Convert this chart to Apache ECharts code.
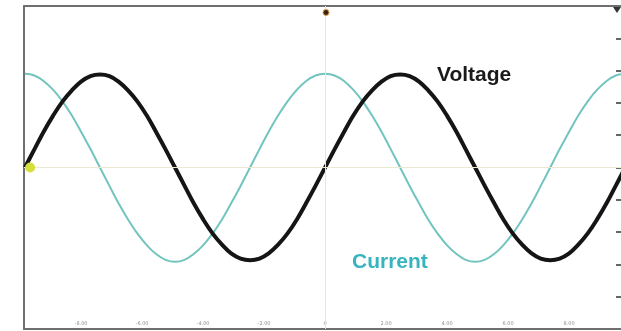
<!DOCTYPE html>
<html><head><meta charset="utf-8">
<script src="https://cdn.jsdelivr.net/npm/echarts@6/dist/echarts.min.js"></script>
<style>html,body{margin:0;padding:0;background:#fff}#c{width:621px;height:331px}</style>
</head><body><div id="c"></div>
<script>
// sample times (time units; 0 = trigger at screen centre)
var times = [-9.84,-9.53,-9.23,-8.92,-8.61,-8.30,-8.00,-7.69,-7.38,-7.07,-6.77,-6.46,-6.15,-5.84,-5.54,-5.23,
             -4.92,-4.61,-4.31,-4.00,-3.69,-3.38,-3.08,-2.77,-2.46,-2.15,-1.85,-1.54,-1.23,-0.92,-0.62,-0.31,
             0,0.31,0.62,0.92,1.23,1.54,1.85,2.15,2.46,2.77,3.08,3.38,3.69,4.00,4.31,4.61,
             4.92,5.23,5.54,5.84,6.15,6.46,6.77,7.07,7.38,7.69,8.00,8.30,8.61,8.92,9.23,9.53,9.84];
// voltage (divisions)
var voltage = [0,0.56,1.10,1.60,2.04,2.39,2.66,2.83,2.88,2.83,2.66,2.39,2.04,1.60,1.10,0.56,
               0,-0.56,-1.10,-1.60,-2.04,-2.39,-2.66,-2.82,-2.87,-2.82,-2.66,-2.39,-2.04,-1.60,-1.10,-0.56,
               0,0.56,1.10,1.60,2.04,2.39,2.66,2.83,2.88,2.83,2.66,2.39,2.04,1.60,1.10,0.56,
               0,-0.56,-1.10,-1.60,-2.04,-2.39,-2.66,-2.82,-2.87,-2.82,-2.66,-2.39,-2.04,-1.60,-1.10,-0.56,0];
// current (divisions)
var current = [2.90,2.85,2.68,2.41,2.05,1.61,1.11,0.57,0,-0.57,-1.11,-1.61,-2.05,-2.41,-2.68,-2.86,
               -2.92,-2.86,-2.68,-2.41,-2.05,-1.61,-1.11,-0.57,0,0.57,1.11,1.61,2.05,2.41,2.68,2.85,
               2.90,2.85,2.68,2.41,2.05,1.61,1.11,0.57,0,-0.57,-1.11,-1.61,-2.05,-2.41,-2.68,-2.86,
               -2.92,-2.86,-2.68,-2.41,-2.05,-1.61,-1.11,-0.57,0,0.57,1.11,1.61,2.05,2.41,2.68,2.85,2.90];
var xTicks = [-8,-6,-4,-2,0,2,4,6,8];
var yTicks = [-4,-3,-2,-1,0,1,2,3,4];
var seriesNames = ['Voltage','Current'];

function pairs(xs, ys){ return xs.map(function(x,i){ return [x, ys[i]]; }); }

var chart = echarts.init(document.getElementById('c'));
chart.setOption({
  backgroundColor:'#fff',
  animation:false,
  grid:{left:24, right:0, top:6, bottom:2, containLabel:false},
  xAxis:[{
    type:'value', min:-9.87, max:9.70, position:'bottom',
    axisLine:{show:true, onZero:false, lineStyle:{color:'#6f6f6f', width:2}},
    axisTick:{show:false},
    splitLine:{show:false},
    axisLabel:{show:true, inside:true, margin:3, customValues:xTicks, fontSize:5, color:'#8c8c8c',
      fontFamily:'DejaVu Sans',
      formatter:function(v){ return v===0 ? '0' : v.toFixed(2); }}
  },{
    type:'value', min:-9.87, max:9.70, position:'top',
    axisLine:{show:true, onZero:false, lineStyle:{color:'#6f6f6f', width:2}},
    axisTick:{show:false}, axisLabel:{show:false}, splitLine:{show:false}
  }],
  yAxis:[{
    type:'value', min:-5, max:5, position:'left',
    axisLine:{show:true, onZero:false, lineStyle:{color:'#6f6f6f', width:2}},
    axisTick:{show:false}, axisLabel:{show:false}, splitLine:{show:false}
  },{
    type:'value', min:-5, max:5, position:'right',
    axisLine:{show:false, onZero:false},
    axisTick:{show:true, inside:true, length:5, customValues:yTicks, lineStyle:{color:'#666', width:2}},
    axisLabel:{show:false}, splitLine:{show:false}
  }],
  series:[{
    name:seriesNames[1], type:'line', smooth:0.4, showSymbol:false, z:3,
    data:pairs(times, current),
    lineStyle:{color:'#72c4be', width:2},
    markLine:{silent:true, symbol:'none', label:{show:false},
      data:[{xAxis:0, lineStyle:{color:'#e4e4e4', width:1, type:'solid'}},
            {yAxis:0, lineStyle:{color:'#ece8d2', width:1, type:'solid'}}]}
  },{
    name:seriesNames[0], type:'line', smooth:0.4, showSymbol:false, z:4,
    data:pairs(times, voltage),
    lineStyle:{color:'#151515', width:4},
    markPoint:{silent:true, label:{show:false},
      data:[
        {coord:[-9.67,0], symbol:'circle', symbolSize:10, itemStyle:{color:'#d6df3a'}},
        {coord:[0.03,4.8], symbol:'circle', symbolSize:6, itemStyle:{color:'#3a2410', borderColor:'#d9a050', borderWidth:1}},
        {coord:[9.57,4.88], symbol:'triangle', symbolRotate:180, symbolSize:[8,6], itemStyle:{color:'#333'}}
      ]}
  }],
  graphic:[
    {type:'text', left:437, top:65, style:{text:seriesNames[0], fill:'#1a1a1a', font:'bold 21px "Liberation Sans", Arial, sans-serif'}},
    {type:'text', left:352, top:252, style:{text:seriesNames[1], fill:'#38b4be', font:'bold 21px "Liberation Sans", Arial, sans-serif'}}
  ]
});
</script></body></html>
